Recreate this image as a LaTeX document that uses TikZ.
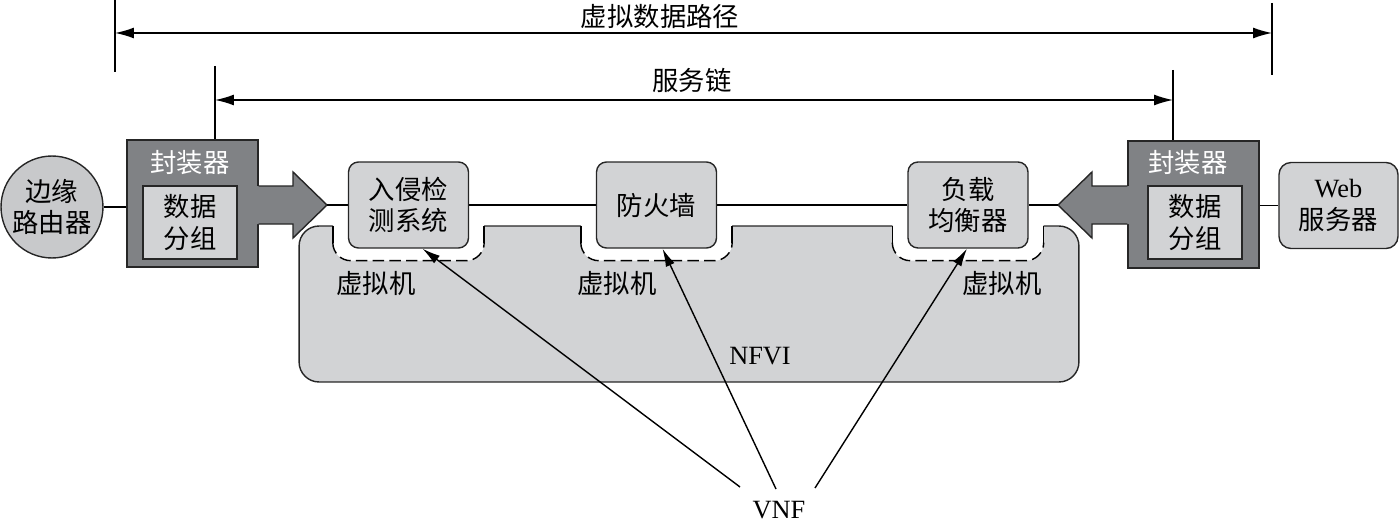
\documentclass[tikz,border=0pt]{standalone}
\usepackage{fontspec}
\setmainfont{Liberation Serif}
\newfontfamily\cjk{Noto Sans CJK SC}
\definecolor{boxgray}{RGB}{210, 211, 213}
\definecolor{roundgray}{RGB}{200, 201, 203}
\definecolor{encgray}{RGB}{128, 130, 133}
\usetikzlibrary{arrows.meta, positioning, calc}
\tikzset{
	txt/.style={font=\cjk\fontsize{15}{18}\selectfont, inner sep=1pt},
	vnfbox/.style={rectangle, rounded corners=0.2cm, draw=black!85, fill=boxgray, line width=0.8pt, align=center, minimum width=2.4cm, minimum height=1.72cm, txt},
	encbox/.style={rectangle, draw=black!85, fill=encgray, line width=0.8pt, minimum width=2.62cm, minimum height=2.54cm},
	pktbox/.style={rectangle, draw=black!85, fill=boxgray, line width=0.8pt, align=center, minimum width=1.88cm, minimum height=1.46cm, txt},
	routernode/.style={circle, draw=black!85, fill=roundgray, line width=0.8pt, align=center, minimum size=2.04cm, inner sep=0pt, txt},
	nfvibox/.style={rectangle, rounded corners=0.4cm, draw=black!85, fill=boxgray, line width=0.8pt, minimum width=15.6cm, minimum height=3.12cm},
	notch/.style={fill=white, rounded corners=0.36cm},
	notchline/.style={line width=0.8pt, dash pattern=on 6.5pt off 3pt, rounded corners=0.36cm},
	link/.style={line width=0.8pt},
	bar/.style={line width=1pt},
	fatarrow/.style={fill=encgray},
	fatedge/.style={draw=black!85, line width=0.8pt, line join=miter},
	span/.style={{Latex[length=3.8mm, width=2.2mm]}-{Latex[length=3.8mm, width=2.2mm]}, line width=0.8pt},
	pointer/.style={-{Latex[length=3.6mm, width=1.9mm]}, line width=0.8pt},
}

\begin{document}
\begin{tikzpicture}[x=0.02cm, y=-0.02cm]
	\useasboundingbox (0,0) rectangle (1400,527);
	% NFVI with the virtual machine notches
	\node[nfvibox] (nfvi) at (689,304) {};
	\node[vnfbox, draw=none, fill=none] (ids) at (408.5,205) {};
	\node[vnfbox, draw=none, fill=none] (fw) at (656.5,205) {};
	\node[vnfbox, draw=none, fill=none] (lb) at (968,205) {};
	\foreach \vm in {ids, fw, lb} {
		\fill[notch] ($(\vm.south west)+(-15,-40)$) rectangle ($(\vm.south east)+(15,12)$);
		\draw[link] ($(\vm.south west)+(-15,-23)$) -- ($(\vm.south west)+(-15,-6)$);
		\draw[link] ($(\vm.south east)+(15,-23)$) -- ($(\vm.south east)+(15,-6)$);
		\draw[notchline] ($(\vm.south west)+(-15,-6)$) -- ($(\vm.south west)+(-15,12)$) -- ($(\vm.south east)+(15,12)$) -- ($(\vm.south east)+(15,-6)$);
	}
	\node[txt] (vm1) at (376,283) {虚拟机};
	\node[txt] (vm2) at (617,283) {虚拟机};
	\node[txt] (vm3) at (1002,283) {虚拟机};
	\node[font=\fontsize{15}{18}\selectfont] (nfvitxt) at (760,356) {NFVI};

	% edge router and encapsulators
	\node[routernode] (router) at (52,207) {边缘\\路由器};
	\node[encbox] (encL) at (192.5,203.5) {};
	\node[txt, text=white] (encLtxt) at (190,163) {封装器};
	\node[pktbox] (pktL) at (190,222.5) {数据\\分组};
	\node[encbox] (encR) at (1193.5,204.5) {};
	\node[txt, text=white] (encRtxt) at (1188,163) {封装器};
	\node[pktbox] (pktR) at (1195,222.5) {数据\\分组};
	\node[vnfbox, rounded corners=0.24cm, minimum width=2.38cm, font=\fontsize{15}{18}\selectfont] (web) at (1338.5,205.5) {Web\\{\cjk 服务器}};

	\coordinate (tipL) at (327,205);
	\coordinate (tipR) at (1058,205);
	\fill[fatarrow] (255,186) -- (293,186) -- (293,172) -- (tipL) -- (293,238) -- (293,224) -- (255,224) -- cycle;
	\draw[fatedge] (encL.east |- 0,186) -- (293,186) -- (293,172) -- (tipL) -- (293,238) -- (293,224) -- (encL.east |- 0,224);
	\fill[fatarrow] (1131,186) -- (1092,186) -- (1092,172) -- (tipR) -- (1092,238) -- (1092,224) -- (1131,224) -- cycle;
	\draw[fatedge] (encR.west |- 0,186) -- (1092,186) -- (1092,172) -- (tipR) -- (1092,238) -- (1092,224) -- (encR.west |- 0,224);

	% service chain
	\draw[link] (tipL) -- (tipL -| ids.west);
	\draw[link] (ids.east) -- (fw.west);
	\draw[link] (fw.east) -- (lb.west);
	\draw[link] (lb.east) -- (tipR);
	\draw[link] (router.east) -- (router.east -| encL.west);
	\draw[link] (web.west -| encR.east) -- (web.west);
	\node[vnfbox] (ids) at (408.5,205) {入侵检\\测系统};
	\node[vnfbox] (fw) at (656.5,205) {防火墙};
	\node[vnfbox] (lb) at (968,205) {负载\\均衡器};

	% spans
	\coordinate (pathL) at (115,33);
	\coordinate (pathR) at (1272,33);
	\coordinate (chainL) at (215,100);
	\coordinate (chainR) at (1173,100);
	\draw[bar] (115,0) -- (115,72);
	\draw[bar] (1272,3) -- (1272,75);
	\draw[bar] (215,66) -- (215,66 |- encL.north);
	\draw[bar] (1173,70) -- (1173,70 |- encR.north);
	\draw[span] (pathL) -- (pathR);
	\draw[span] (chainL) -- (chainR);
	\node[txt] (pathtxt) at (660,17) {虚拟数据路径};
	\node[txt] (chaintxt) at (692,80) {服务链};

	% VNF pointers
	\node[font=\fontsize{15}{18}\selectfont] (vnf) at (779,510) {VNF};
	\coordinate (from1) at (740,487);
	\coordinate (from2) at (776,489);
	\coordinate (from3) at (815,488);
	\draw[pointer] (from1) -- ($(ids.south)+(14,0)$);
	\draw[pointer] (from2) -- ($(fw.south)+(6,0)$);
	\draw[pointer] (from3) -- ($(lb.south)+(-1,0)$);
\end{tikzpicture}
\end{document}
